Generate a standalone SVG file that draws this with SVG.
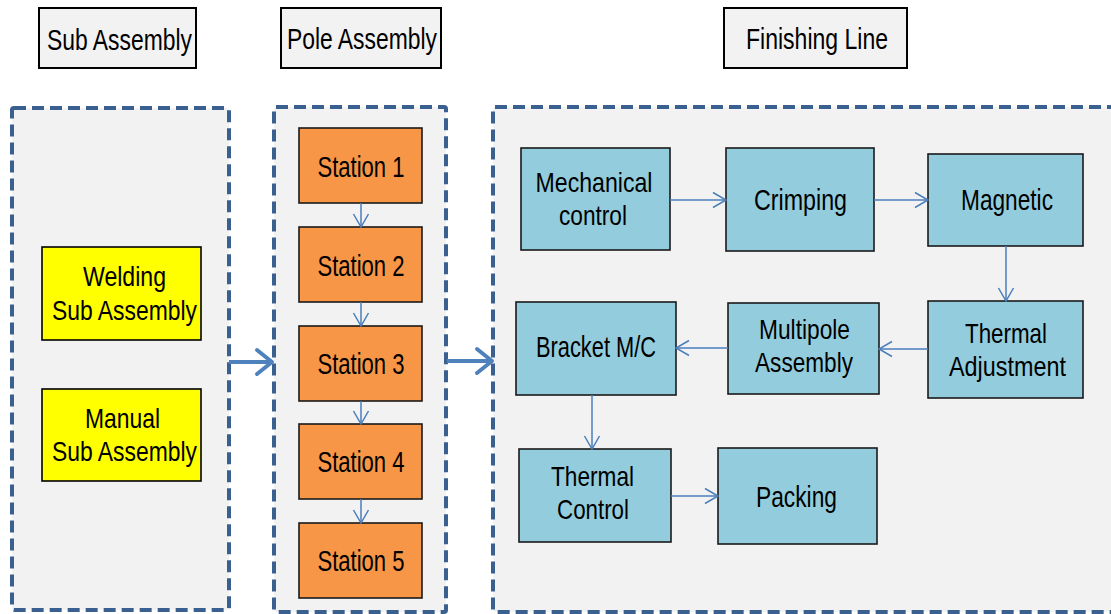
<svg xmlns="http://www.w3.org/2000/svg" width="1111" height="614" viewBox="0 0 1111 614">
<style>
.hdr{fill:#f2f2f2;stroke:#000;stroke-width:2}
.cont{fill:#f2f2f2;stroke:#3a6090;stroke-width:4;stroke-dasharray:12 6}
.yel{fill:#ffff00;stroke:#000;stroke-width:1.6}
.org{fill:#f79646;stroke:#1a1a1a;stroke-width:1.6}
.cyn{fill:#93cddd;stroke:#1a1a1a;stroke-width:1.6}
text{font-family:"Liberation Sans",Arial,sans-serif;fill:#000;text-anchor:middle;font-size:28.5px}
.t29{font-size:29.5px}
.thin{fill:none;stroke:#4a7ebb;stroke-width:1.5;marker-end:url(#ah)}
.big{fill:none;stroke:#4f81bd;stroke-width:4;marker-end:url(#bh)}
</style>
<defs>
<marker id="ah" markerUnits="userSpaceOnUse" viewBox="0 0 15 18" refX="14" refY="9" markerWidth="15" markerHeight="18" orient="auto">
<path d="M1,1.5 L14,9 L1,16.5" fill="none" stroke="#4a7ebb" stroke-width="1.5"/>
</marker>
<marker id="bh" markerUnits="userSpaceOnUse" viewBox="0 0 22 30" refX="18" refY="15" markerWidth="22" markerHeight="30" orient="auto">
<path d="M3,3 L18,15 L3,27" fill="none" stroke="#4f81bd" stroke-width="4" stroke-linecap="round" stroke-linejoin="round"/>
</marker>
</defs>
<rect width="1111" height="614" fill="#ffffff"/>

<g id="hdr-sub"><rect class="hdr" x="39" y="8" width="157" height="60"/><text class="t29" x="119.5" y="49.5" textLength="145" lengthAdjust="spacingAndGlyphs">Sub Assembly</text></g>
<g id="hdr-pole"><rect class="hdr" x="281" y="8" width="160" height="60"/><text class="t29" x="362" y="49" textLength="150" lengthAdjust="spacingAndGlyphs">Pole Assembly</text></g>
<g id="hdr-finish"><rect class="hdr" x="724" y="8" width="183" height="60"/><text class="t29" x="817" y="49" textLength="142" lengthAdjust="spacingAndGlyphs">Finishing Line</text></g>

<g id="cont-sub"><rect class="cont" x="12" y="108" width="217" height="502" rx="2"/></g>
<g id="cont-pole"><rect class="cont" x="274" y="107" width="172" height="505" rx="2"/></g>
<g id="cont-finish"><rect class="cont" x="493" y="107" width="640" height="505" rx="2"/></g>

<g id="welding"><rect class="yel" x="42" y="247" width="159" height="93"/><text x="124.5" y="286" textLength="83" lengthAdjust="spacingAndGlyphs">Welding</text><text x="124.5" y="320" textLength="145" lengthAdjust="spacingAndGlyphs">Sub Assembly</text></g>
<g id="manual"><rect class="yel" x="42" y="389" width="159" height="92"/><text x="122.5" y="428" textLength="75" lengthAdjust="spacingAndGlyphs">Manual</text><text x="124.5" y="461" textLength="145" lengthAdjust="spacingAndGlyphs">Sub Assembly</text></g>

<g id="station1"><rect class="org" x="299" y="128" width="123" height="75"/><text class="t29" x="361" y="177" textLength="87" lengthAdjust="spacingAndGlyphs">Station 1</text></g>
<g id="station2"><rect class="org" x="299" y="227" width="123" height="75"/><text class="t29" x="361" y="276" textLength="87" lengthAdjust="spacingAndGlyphs">Station 2</text></g>
<g id="station3"><rect class="org" x="299" y="326" width="123" height="75"/><text class="t29" x="361" y="374" textLength="87" lengthAdjust="spacingAndGlyphs">Station 3</text></g>
<g id="station4"><rect class="org" x="299" y="424" width="123" height="75"/><text class="t29" x="361" y="472" textLength="87" lengthAdjust="spacingAndGlyphs">Station 4</text></g>
<g id="station5"><rect class="org" x="299" y="523" width="123" height="75"/><text class="t29" x="361" y="571" textLength="87" lengthAdjust="spacingAndGlyphs">Station 5</text></g>

<g id="mechanical"><rect class="cyn" x="521" y="148" width="149" height="102"/><text x="594" y="192" textLength="117" lengthAdjust="spacingAndGlyphs">Mechanical</text><text x="593" y="225" textLength="68" lengthAdjust="spacingAndGlyphs">control</text></g>
<g id="crimping"><rect class="cyn" x="726" y="148" width="148" height="103"/><text class="t29" x="800.5" y="210" textLength="93" lengthAdjust="spacingAndGlyphs">Crimping</text></g>
<g id="magnetic"><rect class="cyn" x="928" y="154" width="155" height="92"/><text class="t29" x="1007" y="210" textLength="92" lengthAdjust="spacingAndGlyphs">Magnetic</text></g>
<g id="thermal-adj"><rect class="cyn" x="928" y="301" width="155" height="97"/><text x="1006" y="343" textLength="82" lengthAdjust="spacingAndGlyphs">Thermal</text><text x="1007.5" y="376" textLength="117" lengthAdjust="spacingAndGlyphs">Adjustment</text></g>
<g id="multipole"><rect class="cyn" x="728" y="303" width="151" height="91"/><text x="804.5" y="339" textLength="91" lengthAdjust="spacingAndGlyphs">Multipole</text><text x="804" y="372" textLength="98" lengthAdjust="spacingAndGlyphs">Assembly</text></g>
<g id="bracket"><rect class="cyn" x="516" y="302" width="160" height="93"/><text class="t29" x="596" y="357" textLength="120" lengthAdjust="spacingAndGlyphs">Bracket M/C</text></g>
<g id="thermal-ctrl"><rect class="cyn" x="519" y="449" width="152" height="93"/><text x="592.5" y="486" textLength="83" lengthAdjust="spacingAndGlyphs">Thermal</text><text x="593" y="519" textLength="72" lengthAdjust="spacingAndGlyphs">Control</text></g>
<g id="packing"><rect class="cyn" x="718" y="448" width="159" height="96"/><text class="t29" x="796.5" y="507" textLength="81" lengthAdjust="spacingAndGlyphs">Packing</text></g>

<g id="connectors">
<path class="thin" d="M361,203 V227"/>
<path class="thin" d="M361,302 V326"/>
<path class="thin" d="M361,401 V424"/>
<path class="thin" d="M361,499 V523"/>
<path class="thin" d="M670,200 H726"/>
<path class="thin" d="M874,200 H928"/>
<path class="thin" d="M1006,246 V301"/>
<path class="thin" d="M928,349 H879"/>
<path class="thin" d="M728,348 H676"/>
<path class="thin" d="M592,395 V449"/>
<path class="thin" d="M671,496 H718"/>
<path class="big" d="M229,362 H272"/>
<path class="big" d="M447,361 H492"/>
</g>
</svg>
